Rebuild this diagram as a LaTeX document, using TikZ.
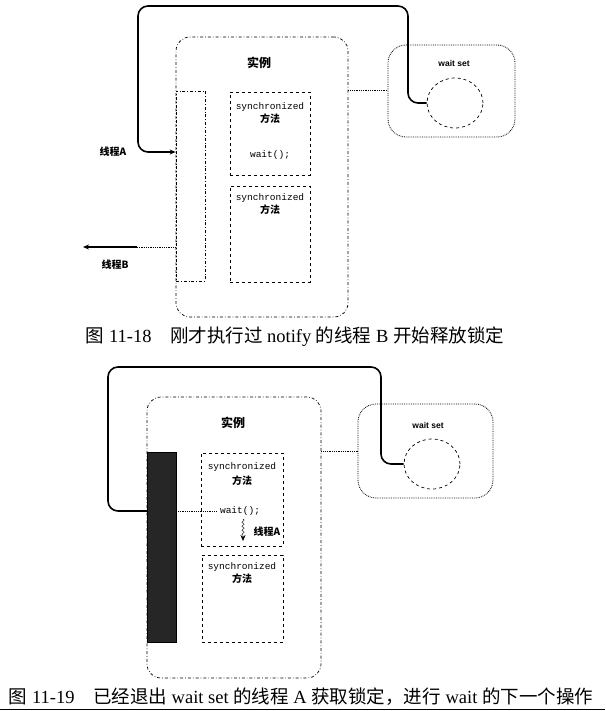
\documentclass[tikz,border=0pt]{standalone}
\usepackage{fontspec}
\setmainfont{Liberation Serif}
\setmonofont{Liberation Mono}
\newfontfamily\cjk{Noto Sans CJK SC}
\newfontfamily\sansf{Liberation Sans}
\newcommand\zh[1]{{\cjk #1}}
\usetikzlibrary{arrows.meta,shapes.geometric,decorations.pathmorphing}

\tikzset{
	instbox/.style={draw, line width=0.7pt, dash dot, rounded corners=14, inner sep=0},
	lockbox/.style={draw, line width=0.7pt, dash dot, inner sep=0},
	lockfill/.style={draw, fill=black!85, inner sep=0},
	methbox/.style={draw, line width=0.7pt, dashed, inner sep=0},
	wsbox/.style={draw, line width=0.8pt, densely dotted, rounded corners=18, inner sep=0},
	wscirc/.style={draw, line width=0.7pt, dashed, ellipse, minimum width=56, minimum height=50, inner sep=0},
	thread/.style={line width=1.6pt},
	link/.style={line width=0.8pt, densely dotted},
	head/.style={font=\cjk\bfseries\fontsize{12}{13}\selectfont},
	lbl/.style={font=\cjk\bfseries\fontsize{10}{11}\selectfont},
	code/.style={font=\ttfamily\fontsize{9.5}{10}\selectfont},
	wslbl/.style={font=\sansf\bfseries\fontsize{8.5}{9}\selectfont},
	capt/.style={font=\fontsize{18.5}{20}\selectfont}
}

\begin{document}
\begin{tikzpicture}[x=1pt, y=-1pt, >={Stealth[length=6pt, width=5pt]}]
	\useasboundingbox (0,0) rectangle (605,711);

	% Figure 11-18: instance
	\node[instbox, minimum width=172, minimum height=280] (inst1) at (262,177) {};
	\node[head] (inst1t) at (259,63) {实例};
	\node[lockbox, minimum width=29, minimum height=190] (lock1) at (190.5,186) {};
	\node[methbox, minimum width=80, minimum height=83] (m1a) at (270,133.5) {};
	\node[code] (m1as) at (270,107) {synchronized};
	\node[lbl] (m1am) at (270,119) {方法};
	\node[code] (wait1) at (270,155) {wait();};
	\node[methbox, minimum width=80, minimum height=96] (m1b) at (270,234) {};
	\node[code] (m1bs) at (270,198) {synchronized};
	\node[lbl] (m1bm) at (270,210) {方法};

	% wait set
	\node[wsbox, minimum width=127, minimum height=92] (ws1) at (451.5,91) {};
	\node[wslbl] (ws1t) at (454,63) {wait set};
	\node[wscirc] (circ1) at (455,103) {};
	\draw[link] (inst1.east |- lock1.north) -- (ws1.west |- lock1.north);

	% threads A, B
	\node[lbl] (thA1) at (113,152) {线程A};
	\coordinate (top1r) at (408,6);
	\coordinate (top1l) at (138,6);
	\draw[thread, ->, rounded corners=10] (circ1.west) -| (top1r) -- (top1l) |- (inst1.west |- thA1);
	\node[lbl] (thB1) at (115,265) {线程B};
	\coordinate (thB1m) at (137,247);
	\coordinate (thB1e) at (83,247);
	\draw[link] (inst1.west |- thB1m) -- (thB1m);
	\draw[thread, ->] (thB1m) -- (thB1e);

	\node[capt] (cap1) at (295,337) {\zh{图}\ 11-18\quad \zh{刚才执行过} notify \zh{的线程} B \zh{开始释放锁定}};

	% Figure 11-19: instance
	\node[instbox, minimum width=174, minimum height=281] (inst2) at (234,537.5) {};
	\node[head] (inst2t) at (233,423) {实例};
	\node[lockfill, minimum width=29, minimum height=190] (bar2) at (161.5,547) {};
	\node[methbox, minimum width=82, minimum height=93] (m2a) at (242,499.5) {};
	\node[code] (m2as) at (242,467) {synchronized};
	\node[lbl] (m2am) at (242,481) {方法};
	\node[code] (wait2) at (240,511) {wait();};
	\coordinate (arr2e) at (243,541);
	\draw[->, decorate, decoration={snake, amplitude=1.2pt, segment length=4pt, post length=4pt}] (wait2.south -| arr2e) -- (arr2e);
	\node[lbl] (thA2) at (267,532) {线程A};
	\node[methbox, minimum width=81, minimum height=87] (m2b) at (242.5,598.5) {};
	\node[code] (m2bs) at (242,567) {synchronized};
	\node[lbl] (m2bm) at (242,579) {方法};

	% wait set
	\node[wsbox, minimum width=135, minimum height=94] (ws2) at (425.5,451) {};
	\node[wslbl] (ws2t) at (428,425) {wait set};
	\node[wscirc] (circ2) at (432,464) {};
	\draw[link] (inst2.east |- bar2.north) -- (ws2.west |- bar2.north);

	% thread A back from wait set
	\coordinate (top2r) at (381,367);
	\coordinate (top2l) at (108,367);
	\draw[thread, rounded corners=10] (circ2.west) -| (top2r) -- (top2l) |- (bar2.west |- wait2);
	\draw[link] (bar2.east |- wait2) -- (wait2.west);

	\node[capt] (cap2) at (301,697) {\zh{图}\ 11-19\quad \zh{已经退出} wait set \zh{的线程} A \zh{获取锁定，进行} wait \zh{的下一个操作}};
	\coordinate (rulel) at (0,709);
	\coordinate (ruler) at (605,709);
	\draw (rulel) -- (ruler);
\end{tikzpicture}
\end{document}
